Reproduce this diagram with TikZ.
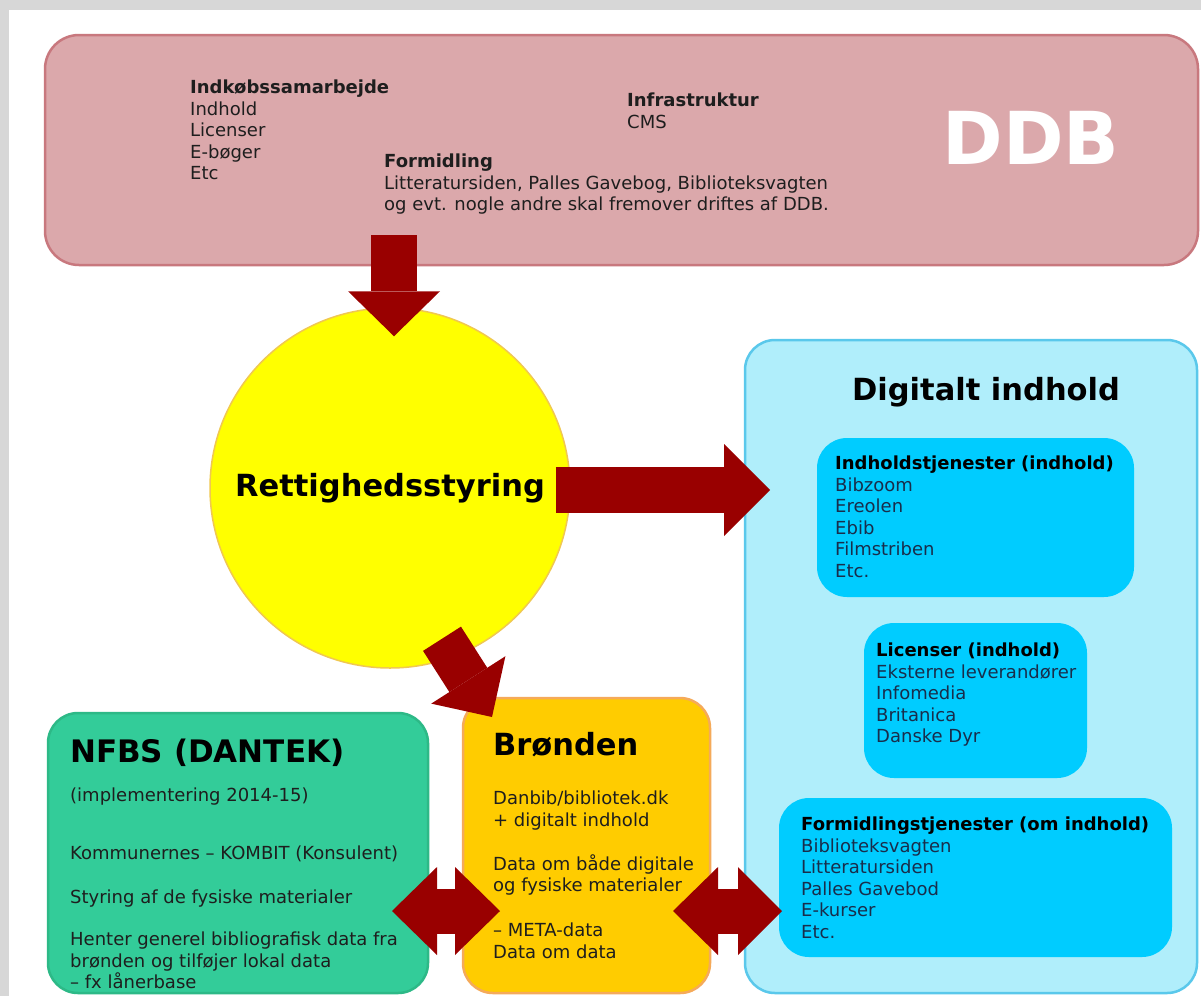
\documentclass[tikz,border=0pt]{standalone}
\usepackage{fontspec}
\setmainfont{DejaVu Sans}
\usetikzlibrary{shapes.geometric,arrows.meta,calc}
\definecolor{ddbfill}{RGB}{219,168,171}
\definecolor{ddbline}{RGB}{200,120,126}
\definecolor{arrowred}{RGB}{153,0,0}
\definecolor{sunyellow}{RGB}{255,255,0}
\definecolor{sunline}{RGB}{240,200,80}
\definecolor{cyanlight}{RGB}{176,238,251}
\definecolor{cyanline}{RGB}{90,200,235}
\definecolor{cyanbox}{RGB}{0,204,255}
\definecolor{greenbox}{RGB}{51,204,153}
\definecolor{greenline}{RGB}{45,185,135}
\definecolor{orangebox}{RGB}{255,204,0}
\definecolor{orangeline}{RGB}{245,170,90}
\definecolor{bodytext}{RGB}{30,30,30}
\definecolor{navytext}{RGB}{25,45,75}
\definecolor{marble}{RGB}{215,215,215}
\begin{document}
\begin{tikzpicture}[x=1pt,y=-1pt,
  panel/.style={rounded corners=30pt, line width=2.5pt, inner sep=0pt},
  body/.style={font=\fontsize{18}{21.5}\selectfont, align=left, inner sep=0pt, anchor=north west, text=bodytext},
  title/.style={font=\bfseries\fontsize{30.5}{34}\selectfont, inner sep=0pt, text=black},
  fatarrow/.style={arrowred, line width=#1},
]
% background
\fill[marble] (0,0) rectangle (1201,996);
\fill[white] (9,10) rectangle (1201,996);
\useasboundingbox (0,0) rectangle (1201,996);

% DDB box
\draw[panel, fill=ddbfill, draw=ddbline, rounded corners=34pt] (45,35) rectangle (1198,265);
\node (ddbbox) at (621,150) {};
\node[body] (indk) at (190,80) {\textbf{Indkøbssamarbejde}\\Indhold\\Licenser\\E-bøger\\Etc};
\node[body] (infra) at (627,93) {\textbf{Infrastruktur}\\CMS};
\node[body] (formid) at (384,154) {\textbf{Formidling}\\Litteratursiden, Palles Gavebog, Biblioteksvagten\\og evt. nogle andre skal fremover driftes af DDB.};
\node[font=\bfseries\fontsize{73}{78}\selectfont, text=white, inner sep=0pt] (ddb) at (1031,138) {DDB};

% circle
\node[circle, fill=sunyellow, draw=sunline, line width=1.5pt, minimum size=360pt, inner sep=0pt] (circ) at (390,488) {};
\node[title] (rett) at (circ.center) {Rettighedsstyring};

% down arrow from DDB to circle
\coordinate (dstart) at (394,235);
\draw[fatarrow=46pt, -{Triangle[width=92pt,length=45pt,line width=0pt]}] (dstart) -- ($(circ.north)+(4,29)$);

% cyan panel
\draw[panel, fill=cyanlight, draw=cyanline] (745,340) rectangle (1197,993);
\node (cyan) at (971,666) {};
\node[title] (digi) at (986,392) {Digitalt indhold};
\fill[cyanbox, rounded corners=30pt] (817,438) rectangle (1134,597);
\node (box1) at (976,518) {};
\node[body, text=navytext] (b1t) at (835,456) {\textbf{\color{black}Indholdstjenester (indhold)}\\Bibzoom\\Ereolen\\Ebib\\Filmstriben\\Etc.};
\fill[cyanbox, rounded corners=30pt] (864,623) rectangle (1087,778);
\node (box2) at (976,701) {};
\node[body, text=navytext] (b2t) at (876,643) {\textbf{\color{black}Licenser (indhold)}\\Eksterne leverandører\\Infomedia\\Britanica\\Danske Dyr};
\fill[cyanbox, rounded corners=30pt] (779,798) rectangle (1172,957);
\node (box3) at (975,877) {};
\node[body, text=navytext] (b3t) at (801,817) {\textbf{\color{black}Formidlingstjenester (om indhold)}\\Biblioteksvagten\\Litteratursiden\\Palles Gavebod\\E-kurser\\Etc.};

% right arrow
\coordinate (rtip) at (770,490);
\draw[fatarrow=46pt, -{Triangle[width=92pt,length=46pt,line width=0pt]}] ($(circ.east)+(-15,2)$) -- (rtip);

% green panel
\draw[panel, fill=greenbox, draw=greenline] (48,713) rectangle (428,993);
\node (green) at (238,853) {};
\node[title, anchor=west, font=\bfseries\fontsize{31}{34}\selectfont] (nfbs) at (70,753) {NFBS (DANTEK)};
\node[body] (nfbst) at (70,788) {(implementering 2014-15)\\[36.5pt]Kommunernes – KOMBIT (Konsulent)\\[22.5pt]Styring af de fysiske materialer\\[20.5pt]Henter generel bibliografisk data fra\\brønden og tilføjer lokal data\\– fx lånerbase};

% orange panel
\draw[panel, fill=orangebox, draw=orangeline] (463,698) rectangle (710,993);
\node (orange) at (587,845) {};
\node[title, anchor=west] (bron) at (493,745) {Brønden};
\node[body] (bront) at (493,791) {Danbib/bibliotek.dk\\+ digitalt indhold\\[22.5pt]Data om både digitale\\og fysiske materialer\\[23.5pt]– META-data\\Data om data};

% diagonal arrow
\draw[fatarrow=45pt, -{Triangle[width=88pt,length=44pt,line width=0pt]}] ($(circ.south)+(52,-30)$) -- (492,717);

% double arrows
\coordinate (gtip) at (392,911);
\coordinate (otipl) at (500,911);
\coordinate (otipr) at (673,911);
\coordinate (ctip) at (782,911);
\draw[fatarrow=45pt, {Triangle[width=88pt,length=45pt,line width=0pt]}-{Triangle[width=88pt,length=45pt,line width=0pt]}] (gtip) -- (otipl);
\draw[fatarrow=45pt, {Triangle[width=88pt,length=45pt,line width=0pt]}-{Triangle[width=88pt,length=44pt,line width=0pt]}] (otipr) -- (ctip);
\end{tikzpicture}
\end{document}
